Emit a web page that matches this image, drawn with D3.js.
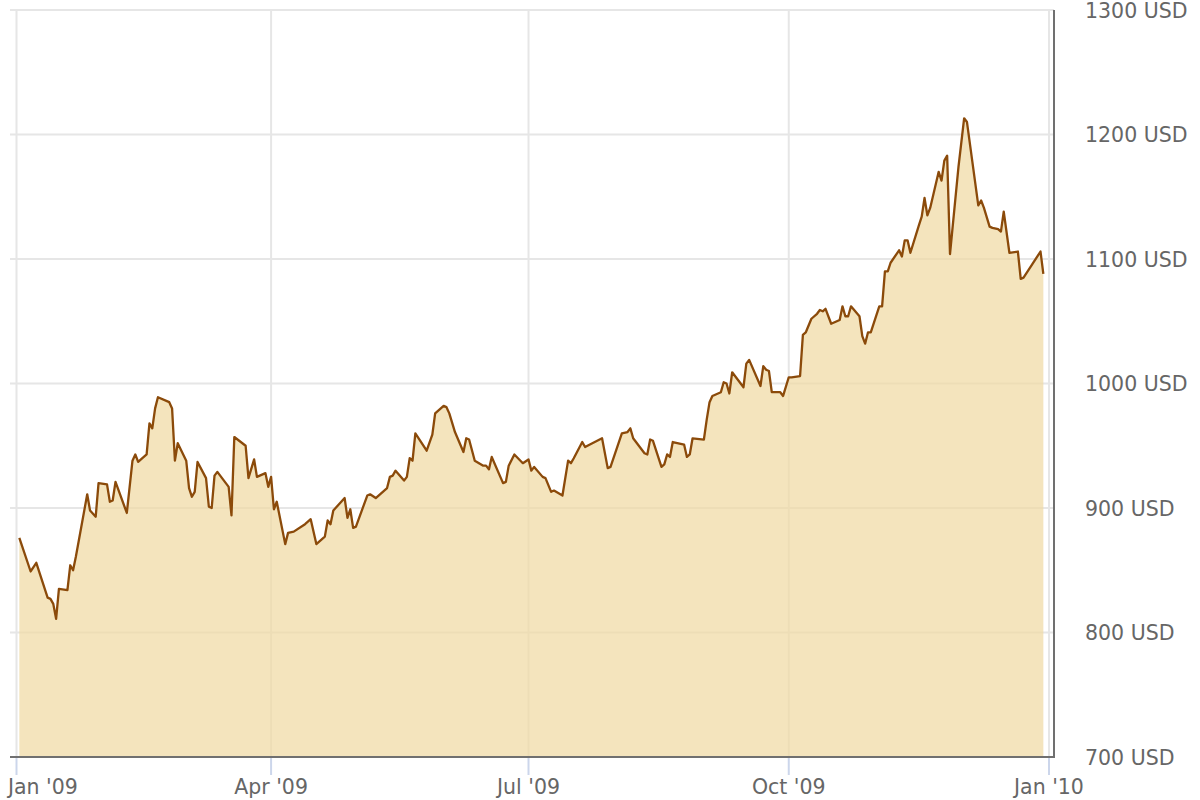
<!DOCTYPE html>
<html>
<head>
<meta charset="utf-8">
<script src="https://cdn.jsdelivr.net/npm/d3@7"></script>
<style>
  body { margin: 0; background: #fff; }
  text { font-family: "DejaVu Sans", Verdana, sans-serif; }
</style>
</head>
<body>
<div id="chart"></div>
<script>
// Gold price, 2009 (USD per ounce)
const dates = [
  "2009-01-02","2009-01-06","2009-01-08","2009-01-12","2009-01-13","2009-01-14","2009-01-15","2009-01-16",
  "2009-01-19","2009-01-20","2009-01-21","2009-01-22","2009-01-26","2009-01-27","2009-01-29","2009-01-30",
  "2009-02-02","2009-02-03","2009-02-04","2009-02-05","2009-02-09","2009-02-11","2009-02-12","2009-02-13",
  "2009-02-16","2009-02-17","2009-02-18","2009-02-19","2009-02-20","2009-02-24","2009-02-25","2009-02-26",
  "2009-02-27","2009-03-02","2009-03-03","2009-03-04","2009-03-05","2009-03-06","2009-03-09","2009-03-10",
  "2009-03-11","2009-03-12","2009-03-13","2009-03-17","2009-03-18","2009-03-19","2009-03-23","2009-03-24",
  "2009-03-26","2009-03-27","2009-03-30","2009-03-31","2009-04-01","2009-04-02","2009-04-03","2009-04-06",
  "2009-04-07","2009-04-09","2009-04-13","2009-04-15","2009-04-17","2009-04-20","2009-04-21","2009-04-22",
  "2009-04-23","2009-04-27","2009-04-28","2009-04-29","2009-04-30","2009-05-01","2009-05-05","2009-05-06",
  "2009-05-08","2009-05-12","2009-05-13","2009-05-14","2009-05-15","2009-05-18","2009-05-19","2009-05-20",
  "2009-05-21","2009-05-22","2009-05-26","2009-05-28","2009-05-29","2009-06-01","2009-06-02","2009-06-03",
  "2009-06-05","2009-06-08","2009-06-09","2009-06-10","2009-06-12","2009-06-15","2009-06-16","2009-06-17",
  "2009-06-18","2009-06-22","2009-06-23","2009-06-24","2009-06-26","2009-06-29","2009-07-01","2009-07-02",
  "2009-07-03","2009-07-06","2009-07-07","2009-07-09","2009-07-10","2009-07-13","2009-07-15","2009-07-16",
  "2009-07-17","2009-07-20","2009-07-21","2009-07-27","2009-07-29","2009-07-30","2009-08-03","2009-08-05",
  "2009-08-06","2009-08-07","2009-08-11","2009-08-12","2009-08-13","2009-08-14","2009-08-17","2009-08-18",
  "2009-08-19","2009-08-20","2009-08-21","2009-08-25","2009-08-26","2009-08-27","2009-08-28","2009-09-01",
  "2009-09-02","2009-09-03","2009-09-04","2009-09-07","2009-09-08","2009-09-09","2009-09-10","2009-09-11",
  "2009-09-15","2009-09-16","2009-09-17","2009-09-21","2009-09-22","2009-09-23","2009-09-24","2009-09-25",
  "2009-09-28","2009-09-29","2009-10-01","2009-10-02","2009-10-05","2009-10-06","2009-10-07","2009-10-09",
  "2009-10-11","2009-10-12","2009-10-13","2009-10-14","2009-10-16","2009-10-19","2009-10-20","2009-10-21",
  "2009-10-22","2009-10-23","2009-10-26","2009-10-27","2009-10-28","2009-10-29","2009-10-30","2009-11-02",
  "2009-11-03","2009-11-04","2009-11-05","2009-11-06","2009-11-09","2009-11-10","2009-11-11","2009-11-12",
  "2009-11-13","2009-11-16","2009-11-17","2009-11-18","2009-11-19","2009-11-20","2009-11-23","2009-11-24",
  "2009-11-25","2009-11-26","2009-11-27","2009-11-30","2009-12-02","2009-12-03","2009-12-07","2009-12-08",
  "2009-12-09","2009-12-11","2009-12-12","2009-12-14","2009-12-15","2009-12-16","2009-12-18","2009-12-21",
  "2009-12-22","2009-12-23","2009-12-29","2009-12-30"
];

const prices = [
  876, 849, 856, 828, 827, 823, 811, 835,
  834, 854, 850, 861, 911, 898, 893, 920,
  919, 905, 906, 921, 896, 938, 943, 937,
  943, 968, 964, 980, 989, 985, 980, 938,
  952, 938, 916, 909, 913, 937, 924, 901,
  900, 926, 929, 917, 894, 957, 950, 924,
  939, 925, 928, 917, 925, 899, 905, 871,
  880, 881, 887, 891, 871, 877, 890, 887,
  898, 908, 892, 899, 884, 885, 910, 911,
  908, 916, 925, 926, 930, 922, 925, 940,
  938, 960, 946, 959, 976, 982, 981, 976,
  961, 945, 956, 955, 938, 934, 934, 931,
  941, 920, 921, 934, 943, 936, 939, 930,
  933, 925, 924, 913, 914, 910, 938, 936,
  940, 953, 949, 956, 932, 933, 960, 961,
  964, 956, 944, 943, 955, 954, 933, 935,
  943, 941, 953, 951, 941, 943, 956, 955,
  971, 985, 990, 993, 1001, 1000, 992, 1009,
  997, 1016, 1019, 998, 1014, 1011, 1010, 993,
  993, 990, 1005, 1005, 1006, 1039, 1041, 1052,
  1056, 1059, 1058, 1060, 1048, 1051, 1062, 1054,
  1054, 1062, 1054, 1038, 1032, 1041, 1041, 1062,
  1062, 1090, 1090, 1097, 1107, 1102, 1115, 1115,
  1105, 1127, 1134, 1149, 1135, 1141, 1170, 1163,
  1179, 1183, 1104, 1174, 1213, 1210, 1143, 1147,
  1141, 1126, 1125, 1124, 1122, 1138, 1105, 1106,
  1084, 1085, 1106, 1088
];

const xTickDates = ["2009-01-01", "2009-04-01", "2009-07-01", "2009-10-01", "2010-01-01"];
const xTickLabels = ["Jan '09", "Apr '09", "Jul '09", "Oct '09", "Jan '10"];
const yTicks = [700, 800, 900, 1000, 1100, 1200, 1300];

const W = 1200, H = 800;
const plotLeft = 10, plotRight = 1054, plotTop = 10, plotBottom = 757;

const parse = d3.utcParse("%Y-%m-%d");
const data = dates.map((d, i) => ({ date: parse(d), value: prices[i] }));

const x = d3.scaleUtc()
  .domain([parse("2009-01-01"), parse("2010-01-01")])
  .range([16.5, 1049]);

const y = d3.scaleLinear()
  .domain([700, 1300])
  .range([plotBottom, plotTop]);

const svg = d3.select("#chart")
  .append("svg")
  .attr("width", W)
  .attr("height", H);

// horizontal grid
svg.append("g")
  .selectAll("line")
  .data(yTicks)
  .enter()
  .append("line")
  .attr("x1", plotLeft)
  .attr("x2", plotRight)
  .attr("y1", d => y(d))
  .attr("y2", d => y(d))
  .attr("stroke", "#e6e6e6")
  .attr("stroke-width", 2);

// vertical grid
svg.append("g")
  .selectAll("line")
  .data(xTickDates)
  .enter()
  .append("line")
  .attr("x1", d => x(parse(d)))
  .attr("x2", d => x(parse(d)))
  .attr("y1", plotTop)
  .attr("y2", plotBottom)
  .attr("stroke", "#e6e6e6")
  .attr("stroke-width", 2);

// area + line
const area = d3.area()
  .x(d => x(d.date))
  .y0(y(700))
  .y1(d => y(d.value));

const line = d3.line()
  .x(d => x(d.date))
  .y(d => y(d.value));

svg.append("path")
  .datum(data)
  .attr("d", area)
  .attr("fill", "rgb(240,218,164)")
  .attr("fill-opacity", 0.72);

svg.append("path")
  .datum(data)
  .attr("d", line)
  .attr("fill", "none")
  .attr("stroke", "#8b4a0a")
  .attr("stroke-width", 2.3)
  .attr("stroke-linejoin", "round");

// x tick marks
svg.append("g")
  .selectAll("line")
  .data(xTickDates)
  .enter()
  .append("line")
  .attr("x1", d => x(parse(d)))
  .attr("x2", d => x(parse(d)))
  .attr("y1", plotBottom)
  .attr("y2", plotBottom + 18)
  .attr("stroke", "#ccd6eb")
  .attr("stroke-width", 2);

// axis lines
svg.append("line")
  .attr("x1", plotLeft).attr("x2", plotRight + 1)
  .attr("y1", plotBottom).attr("y2", plotBottom)
  .attr("stroke", "#707070").attr("stroke-width", 2);

svg.append("line")
  .attr("x1", plotRight).attr("x2", plotRight)
  .attr("y1", plotTop).attr("y2", plotBottom)
  .attr("stroke", "#707070").attr("stroke-width", 2);

// x labels
svg.append("g")
  .selectAll("text")
  .data(xTickDates)
  .enter()
  .append("text")
  .attr("x", (d, i) => i === 0 ? 8 : x(parse(d)))
  .attr("y", 794)
  .attr("text-anchor", (d, i) => i === 0 ? "start" : "middle")
  .attr("font-size", 20.5)
  .attr("fill", "#666")
  .text((d, i) => xTickLabels[i]);

// y labels
svg.append("g")
  .selectAll("text")
  .data(yTicks)
  .enter()
  .append("text")
  .attr("x", 1085)
  .attr("y", d => y(d) + 7.5)
  .attr("font-size", 20.5)
  .attr("fill", "#666")
  .text(d => d + " USD");
</script>
</body>
</html>
